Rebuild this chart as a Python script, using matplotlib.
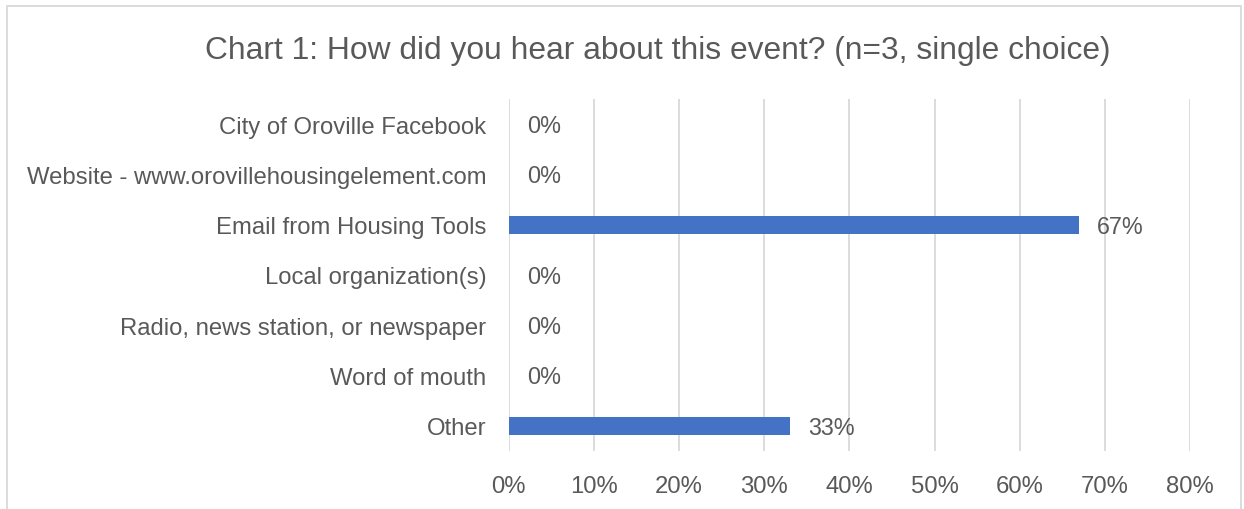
import numpy as np
import matplotlib.pyplot as plt
from matplotlib.patches import Rectangle

# data
categories = ["City of Oroville Facebook",
              "Website - www.orovillehousingelement.com",
              "Email from Housing Tools",
              "Local organization(s)",
              "Radio, news station, or newspaper",
              "Word of mouth",
              "Other"]
values = [0, 0, 67, 0, 0, 0, 33]
xticks = [0, 10, 20, 30, 40, 50, 60, 70, 80]

title = "Chart 1: How did you hear about this event? (n=3, single choice)"

plt.rcParams['font.family'] = ['Liberation Sans', 'DejaVu Sans']
txt = '#595959'

fig = plt.figure(figsize=(12.44, 5.10), dpi=100)
ax = fig.add_axes([0.409, 0.1137, 0.5476, 0.6903])

y = np.arange(len(categories))
ax.barh(y, values, height=0.36, color='#4472c4', zorder=3)
ax.set_ylim(len(categories) - 0.5, -0.5)
ax.set_xlim(0, 80)

ax.set_yticks(y)
ax.set_yticklabels(categories, fontsize=17.2, color=txt)
ax.set_xticks(xticks)
ax.set_xticklabels(["%d%%" % v for v in xticks], fontsize=17.2, color=txt)
ax.tick_params(axis='y', length=0, pad=16)
ax.tick_params(axis='x', length=0, pad=17)

ax.grid(axis='x', color='#d9d9d9', linewidth=1.3, zorder=0)
for s in ax.spines.values():
    s.set_visible(False)

for yi, v in zip(y, values):
    ax.annotate("%d%%" % v, (v, yi), xytext=(13, -1), textcoords='offset points',
                va='center', ha='left', fontsize=16.8, color=txt)

fig.text(0.529, 0.9, title, ha='center', va='center', fontsize=22.9, color=txt)

# chart border
fig.patches.append(Rectangle((7 / 1244, -0.1), 1234 / 1244, 1.1 - 7 / 510,
                             transform=fig.transFigure, fill=False,
                             edgecolor='#d9d9d9', linewidth=1.3))

fig.savefig("out.png", dpi=100)
